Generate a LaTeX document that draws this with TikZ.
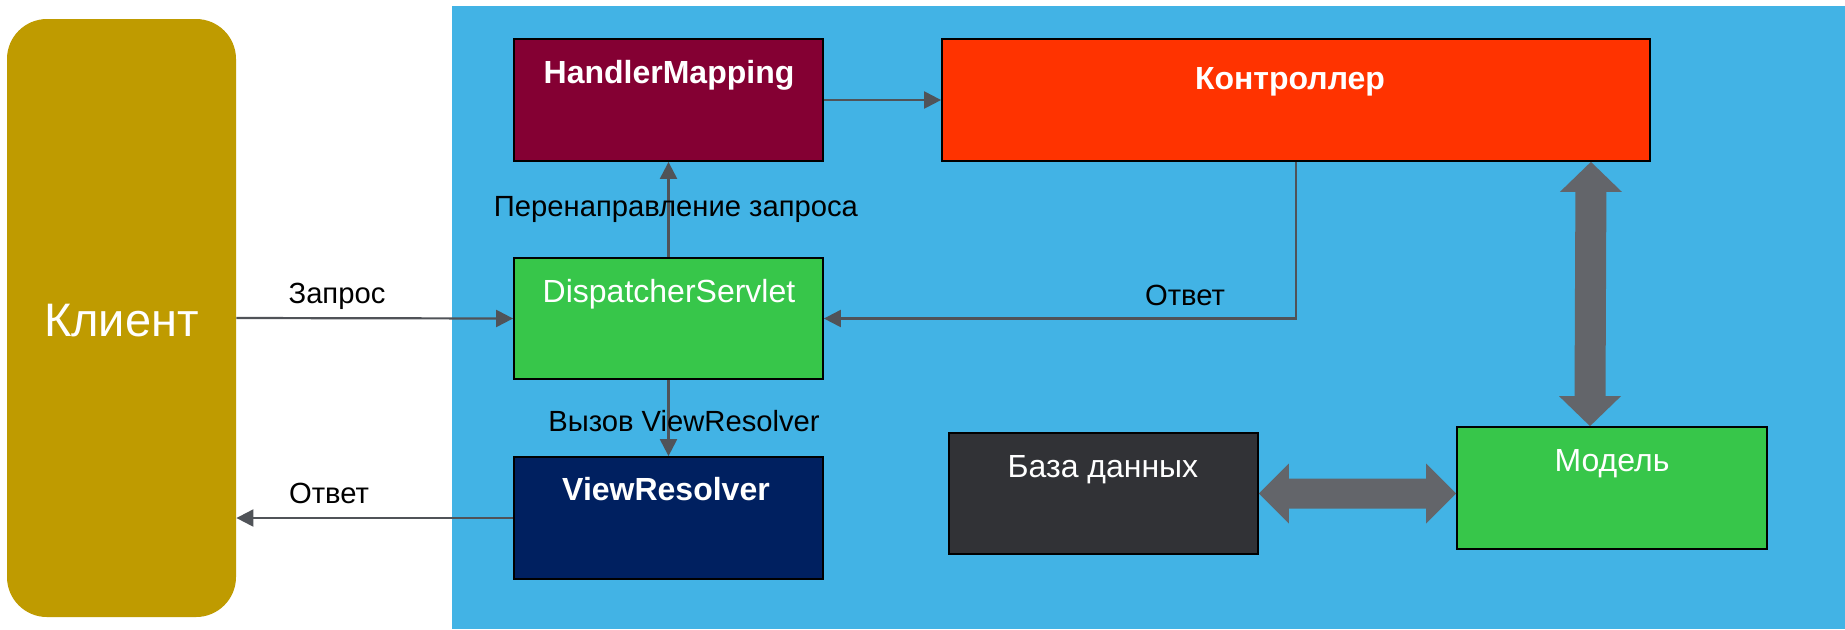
\documentclass[tikz,border=0pt]{standalone}
\usepackage{fontspec}
\setmainfont{Liberation Sans}
\usetikzlibrary{arrows.meta,calc}
\definecolor{gold}{RGB}{191,155,0}
\definecolor{bgblue}{RGB}{66,179,229}
\definecolor{maroon}{RGB}{132,0,51}
\definecolor{ctrlred}{RGB}{255,51,0}
\definecolor{mygreen}{RGB}{55,198,74}
\definecolor{navy}{RGB}{0,32,96}
\definecolor{dbgray}{RGB}{49,50,54}
\definecolor{linegray}{RGB}{80,83,88}
\definecolor{biggray}{RGB}{99,101,106}
\tikzset{
  box/.style={draw=black, line width=0.9pt, inner sep=0pt, minimum width=154.5pt, minimum height=61pt},
  title/.style={anchor=base, text=white, inner sep=0pt, font=\fontsize{16}{19}\selectfont},
  btitle/.style={title, font=\fontsize{16}{19}\selectfont\bfseries},
  lbl/.style={anchor=base, text=black, inner sep=0pt, font=\fontsize{14.6}{17}\selectfont},
  conn/.style={draw=linegray, line width=1.1pt, -{Triangle[length=8.5pt,width=8.5pt]}},
  bigarrow/.style={fill=biggray}
}
\begin{document}
\begin{tikzpicture}[x=0.5pt,y=-0.5pt]
\useasboundingbox (0,0) rectangle (1845,629);
\fill[white] (0,0) rectangle (1845,629);
\fill[bgblue] (452,6) rectangle (1845,629);
% client
\node[fill=gold, rounded corners=20pt, inner sep=0pt, minimum width=114.5pt, minimum height=299pt] (client) at (121.5,318) {};
\node[anchor=base, text=white, inner sep=0pt, font=\fontsize{23.5}{27}\selectfont] (clientt) at (121.5,336) {Клиент};
% boxes
\node[box, fill=maroon] (hm) at (668.5,100) {};
\node[box, fill=ctrlred, minimum width=354pt] (ctrl) at (1296,100) {};
\node[box, fill=mygreen, minimum height=60.5pt] (ds) at (668.5,318.5) {};
\node[box, fill=navy] (vr) at (668.5,518) {};
\node[box, fill=dbgray, minimum height=60.5pt] (db) at (1103.5,493.5) {};
\node[box, fill=mygreen, minimum width=155pt] (model) at (1612,488) {};
% titles
\node[btitle] (hmt) at (669,83) {HandlerMapping};
\node[btitle] (ctrlt) at (1290,89) {Контроллер};
\node[title] (dst) at (669,302) {DispatcherServlet};
\node[btitle] (vrt) at (666,500.5) {ViewResolver};
\node[title] (dbt) at (1103,477) {База данных};
\node[title] (modelt) at (1612,471) {Модель};
% connectors
\draw[conn] (client.east) -- (ds.west);
\draw[conn] (vr.west) -- (vr.west -| client.east);
\draw[conn] (ds.north) -- (hm.south);
\draw[conn] (ds.south) -- (vr.north);
\draw[conn] (hm.east) -- (ctrl.west);
\draw[conn] (ctrl.south) |- (ds.east);
% labels
\node[lbl] (l1) at (337,303) {Запрос};
\node[lbl] (l2) at (329,503) {Ответ};
\node[lbl] (l3) at (676,216) {Перенаправление запроса};
\node[lbl] (l4) at (684,431) {Вызов ViewResolver};
\node[lbl] (l5) at (1185,305) {Ответ};
% big arrows
\coordinate (vt) at ($(ctrl.south east)+(-60,0)$);
\coordinate (vb) at ($(model.north)+(-22,0)$);
\fill[bigarrow] (vt) -- ++(31,30) -- ++(-15.5,0) -- ($(vb)+(15.5,-30)$) -- ++(15.5,0) -- (vb) -- ++(-31,-30) -- ++(15.5,0) -- ($(vt)+(-15.5,30)$) -- ++(-15.5,0) -- cycle;
\coordinate (hl) at (db.east);
\coordinate (hr) at (model.west |- db.east);
\fill[bigarrow] (hl) -- ++(30,-30) -- ++(0,15) -- ($(hr)+(-30,-15)$) -- ++(0,-15) -- (hr) -- ++(-30,30) -- ++(0,-15) -- ($(hl)+(30,15)$) -- ++(0,15) -- cycle;
\end{tikzpicture}
\end{document}
